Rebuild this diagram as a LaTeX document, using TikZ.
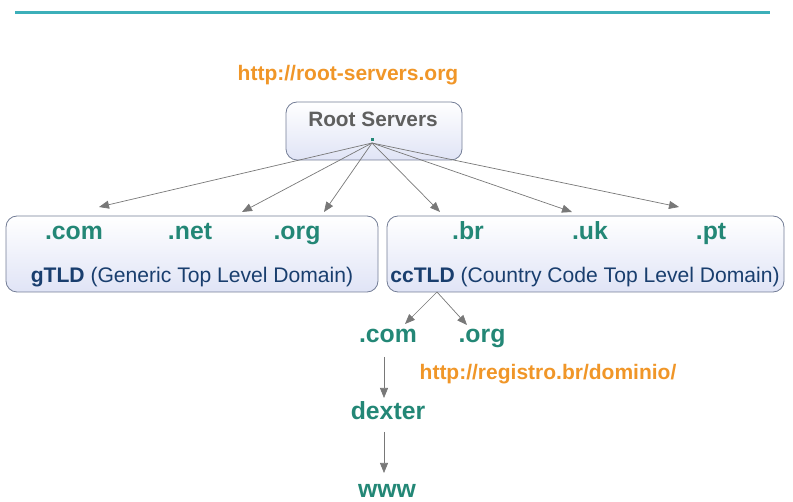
\documentclass[tikz,border=0pt]{standalone}
\usepackage{fontspec}
\setmainfont{Liberation Sans}
\usetikzlibrary{arrows.meta,calc}
\definecolor{teal1}{RGB}{35,135,118}
\definecolor{navy1}{RGB}{25,62,110}
\definecolor{orange1}{RGB}{240,150,40}
\definecolor{grey1}{RGB}{95,95,95}
\definecolor{line1}{RGB}{60,175,185}
\definecolor{border1}{RGB}{115,125,150}
\definecolor{arrow1}{RGB}{120,120,120}
\begin{document}
\begin{tikzpicture}[x=1pt,y=-1pt,
  box/.style={draw=border1,line width=0.8pt,rounded corners=11pt,top color=white,bottom color={rgb,255:red,224;green,228;blue,246}},
  dom/.style={anchor=base,text=teal1,font=\fontsize{24.8}{28}\selectfont\bfseries,inner sep=0pt},
  url/.style={anchor=base,text=orange1,font=\fontsize{21}{24}\selectfont\bfseries,inner sep=0pt},
  captext/.style={anchor=base,text=navy1,font=\fontsize{21.1}{24}\selectfont,inner sep=0pt},
  arr/.style={draw=arrow1,line width=0.7pt,-{Triangle[length=10pt,width=8pt]}}]
\useasboundingbox (0,0) rectangle (793,502);
\draw[line1,line width=3pt] (15,13) -- (770,13);
% root
\node[url] (rurl) at (348,81) {http://root-servers.org};
\node[box,minimum width=176pt,minimum height=58pt] (root) at (374,131) {};
\node[anchor=base,text=grey1,font=\fontsize{20.8}{24}\selectfont\bfseries,inner sep=0pt] (rtext) at (373,127) {Root Servers};
\node[fill=teal1,inner sep=0pt,minimum size=3pt] (rdot) at (372,140) {};
% boxes
\node[box,minimum width=372pt,minimum height=76pt] (gtld) at (192,254) {};
\node[box,minimum width=397pt,minimum height=76pt] (cctld) at (585.5,254) {};
\node[dom] (com) at (74,240) {.com};
\node[dom] (net) at (190,240) {.net};
\node[dom] (org) at (297,240) {.org};
\node[captext] (gcap) at (192,283) {\textbf{gTLD} (Generic Top Level Domain)};
\node[dom] (br) at (468,240) {.br};
\node[dom] (uk) at (590,240) {.uk};
\node[dom] (pt) at (711,240) {.pt};
\node[captext] (ccap) at (585,283) {\textbf{ccTLD} (Country Code Top Level Domain)};
% arrow targets
\coordinate (t1) at (99,207);
\coordinate (t2) at (242,212);
\coordinate (t3) at (324,212);
\coordinate (t4) at (440,212);
\coordinate (t5) at (572,212);
\coordinate (t6) at (679,207);
\coordinate (rs) at (372,143);
\foreach \t in {t1,t2,t3,t4,t5,t6} \draw[arr] (rs) -- (\t);
% lower
\node[dom] (bcom) at (388,343) {.com};
\node[dom] (borg) at (482,343) {.org};
\node[url] (burl) at (548,380) {http://registro.br/dominio/};
\node[dom] (dexter) at (388,420) {dexter};
\node[dom] (www) at (387,497) {www};
\coordinate (cs) at (437,292);
\coordinate (c1) at (405,324);
\coordinate (c2) at (467,325);
\draw[arr] (cs) -- (c1);
\draw[arr] (cs) -- (c2);
\coordinate (d1) at (384,357);
\coordinate (d2) at (384,398);
\coordinate (e1) at (384,432);
\coordinate (e2) at (384,473);
\draw[arr] (d1) -- (d2);
\draw[arr] (e1) -- (e2);
\end{tikzpicture}
\end{document}
